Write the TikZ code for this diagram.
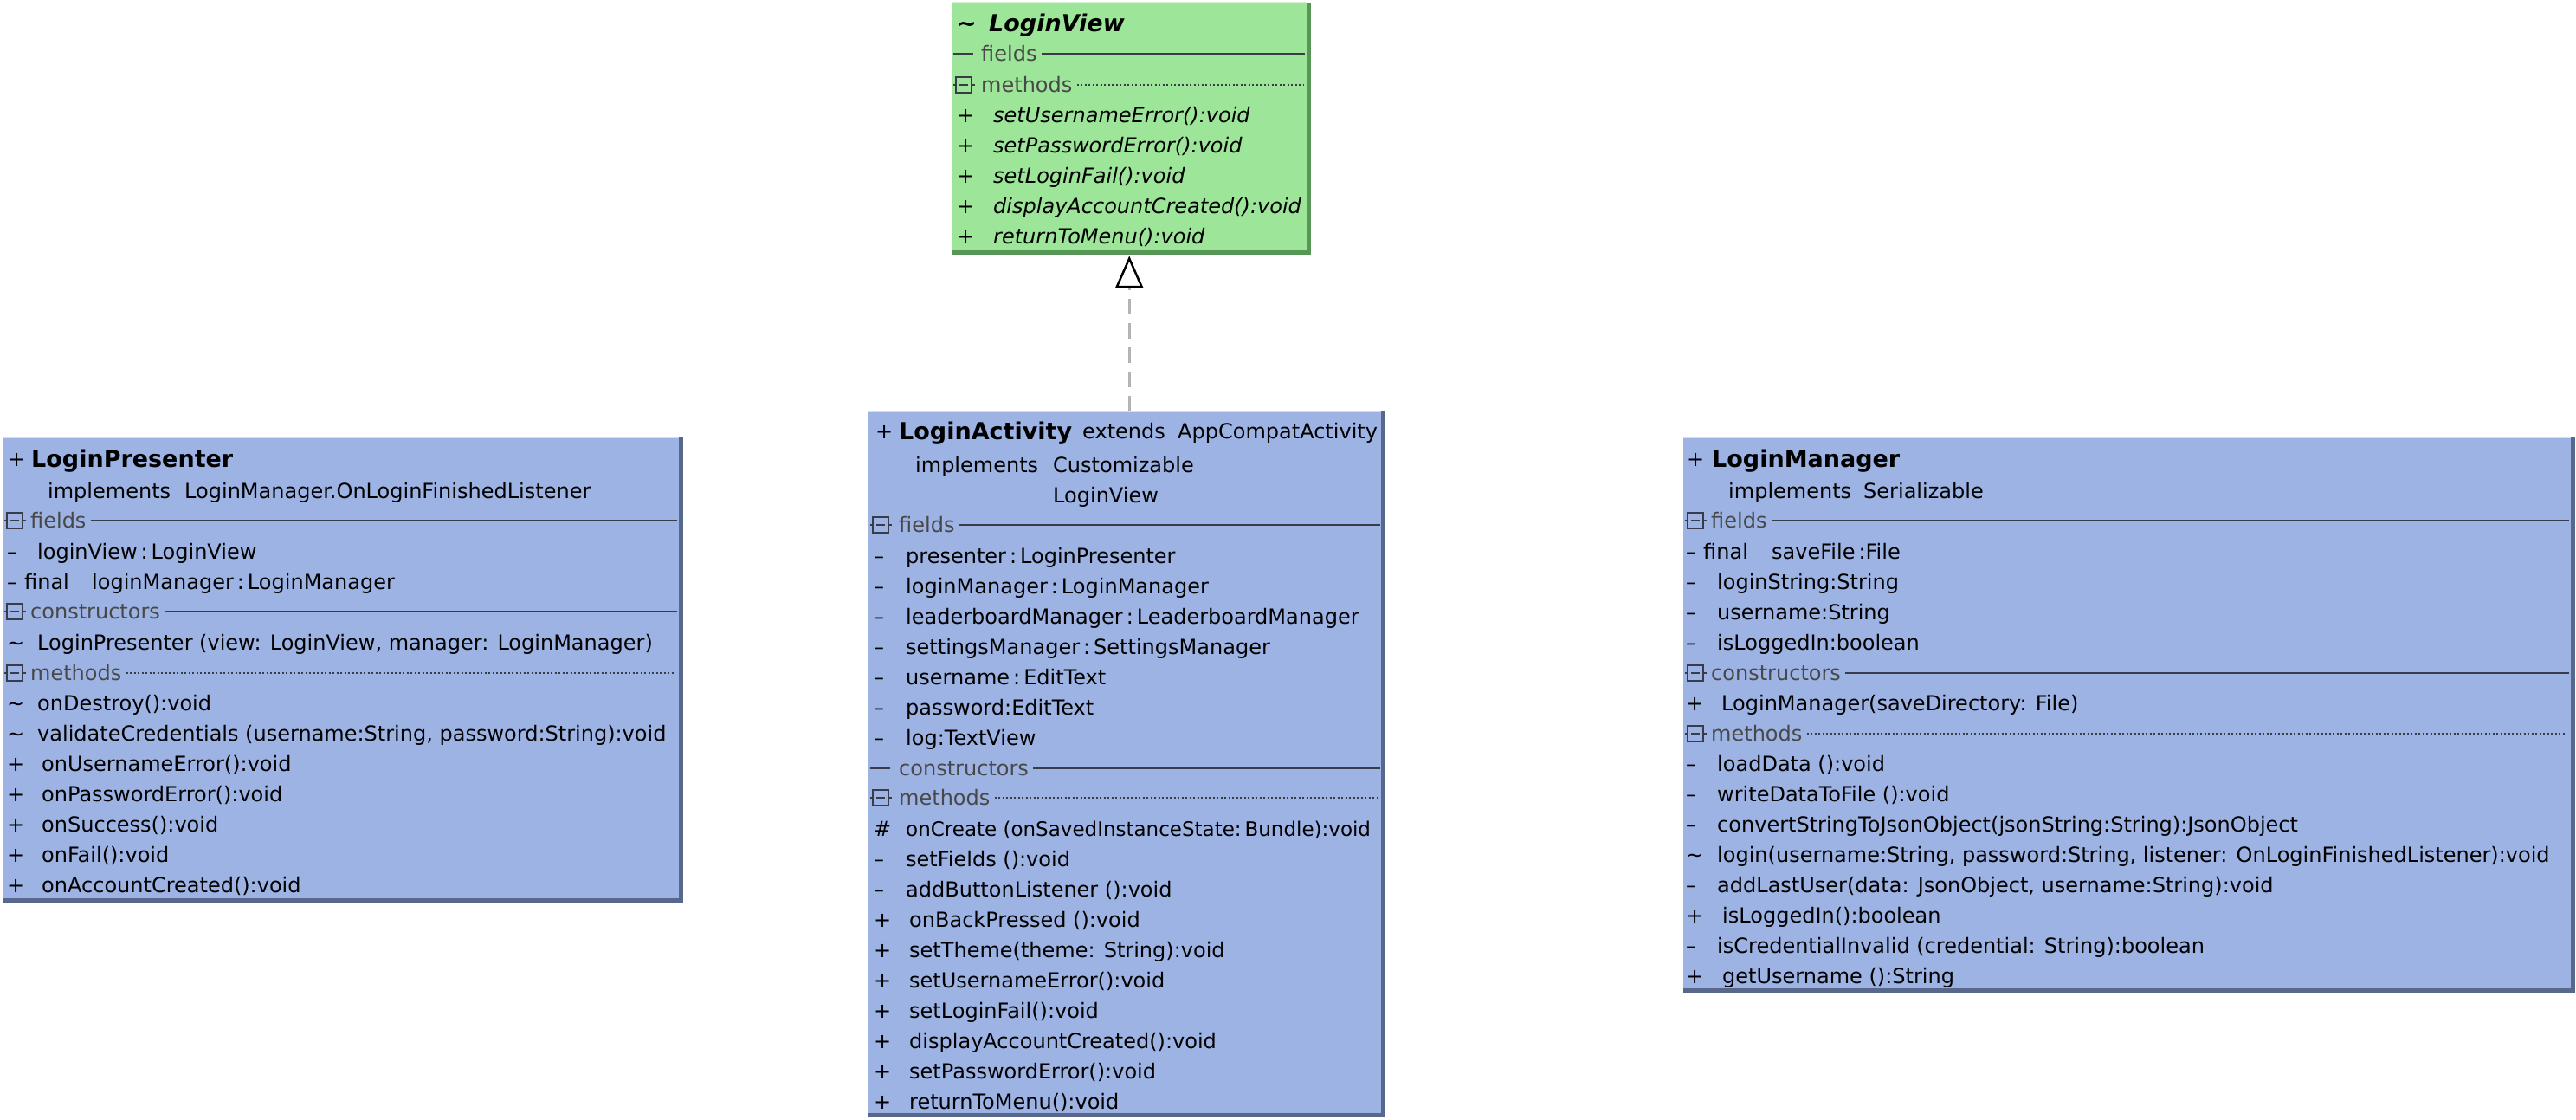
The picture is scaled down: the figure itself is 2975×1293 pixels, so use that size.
\documentclass[tikz,border=0pt]{standalone}
\usepackage{fontspec}
\setmainfont{DejaVu Sans}
\usetikzlibrary{arrows.meta}
\definecolor{umlblue}{RGB}{156,179,228}
\definecolor{umlblueshadow}{RGB}{88,104,140}
\definecolor{umlgreen}{RGB}{157,229,153}
\definecolor{umlgreenshadow}{RGB}{88,150,88}
\definecolor{secline}{RGB}{55,60,72}
\definecolor{sectext}{RGB}{72,72,72}
\definecolor{dashgray}{RGB}{180,180,180}
\tikzset{
  rowtxt/.style={anchor=base west, inner sep=0pt, font=\fontsize{24}{28}\selectfont, text=black},
  rowit/.style={anchor=base west, inner sep=0pt, font=\fontsize{24}{28}\selectfont\itshape, text=black},
  ttl/.style={anchor=base west, inner sep=0pt, font=\fontsize{27}{31}\selectfont\bfseries, text=black},
  seclabel/.style={anchor=west, inner sep=0pt, font=\fontsize{24}{28}\selectfont, text=sectext},
  solidsep/.style={draw=secline, line width=2.5pt},
  dottedsep/.style={draw=secline, line width=2pt, dash pattern=on 2pt off 2.5pt},
  iconsq/.style={draw=secline, line width=2.2pt},
  boxfill/.style={anchor=north west, inner sep=0pt, draw=none},
  realize/.style={draw=dashgray, line width=3pt, dash pattern=on 18pt off 10pt,
    -{Triangle[open, length=37pt, width=32pt, line width=2.5pt, color=black]}},
}
\newcommand\umlbox[7]{% name, x, y, w, h, fill, shadow
  \fill[#7] (#2,#3) rectangle (#2+#4+5,#3+#5+5);
  \node[boxfill, fill=#6, minimum width=#4pt, minimum height=#5pt] (#1) at (#2,#3) {};
  \draw[white!55!#6, line width=2pt] (#1.north west) -- (#1.north east);
}
\newcommand\urow[4]{\node[rowtxt] (#1) at (#2,#3+8) {#4};}
\newcommand\irow[4]{\node[rowit] (#1) at (#2,#3+8) {#4};}
\newcommand\secicon[2]{%
  \draw[iconsq] (#1,#2) -- (#1+3,#2) (#1+21,#2) -- (#1+25,#2);
  \draw[iconsq] (#1+3,#2-9) rectangle (#1+21,#2+9);
  \draw[iconsq] (#1+7,#2) -- (#1+17,#2);}
\newcommand\secdash[2]{\draw[solidsep] (#1,#2) -- (#1+23,#2);}
\newcommand\umlsec[6]{% name, x, y, label, xend, style
  \node[seclabel] (#1) at (#2,#3) {#4};
  \coordinate (#1e) at (#5,#3);
  \draw[#6] ([xshift=5pt]#1.east) -- (#1e);}
\begin{document}
\begin{tikzpicture}[x=1pt, y=-1pt]
\useasboundingbox (0,0) rectangle (2975,1293);

% ---------------- LoginView ----------------
\umlbox{lv}{1099}{3}{410}{286}{umlgreen}{umlgreenshadow}
\node[anchor=base west, inner sep=0pt, font=\fontsize{27}{31}\selectfont\bfseries] (lvvis) at (1105,27+9) {\textasciitilde};
\node[ttl, font=\fontsize{27}{31}\selectfont\bfseries\itshape] (lvname) at (1142,27+9) {LoginView};
\secdash{1101}{62}
\umlsec{lvfields}{1133}{62}{fields}{1507}{solidsep}
\secicon{1101}{98}
\umlsec{lvmeth}{1133}{98}{methods}{1505}{dottedsep}
\irow{lvm1s}{1105}{133}{+} \irow{lvm1}{1147}{133}{setUsernameError():void}
\irow{lvm2s}{1105}{168}{+} \irow{lvm2}{1147}{168}{setPasswordError():void}
\irow{lvm3s}{1105}{203}{+} \irow{lvm3}{1147}{203}{setLoginFail():void}
\irow{lvm4s}{1105}{238}{+} \irow{lvm4}{1147}{238}{displayAccountCreated():void}
\irow{lvm5s}{1105}{273}{+} \irow{lvm5}{1147}{273}{returnToMenu():void}

% ---------------- LoginPresenter ----------------
\umlbox{lp}{3}{505}{781}{532}{umlblue}{umlblueshadow}
\urow{lpvis}{9}{530}{+}
\node[ttl] (lpname) at (36,530+9) {LoginPresenter};
\urow{lpimpl}{55}{567}{implements}
\urow{lpimplt}{213}{567}{LoginManager.OnLoginFinishedListener}
\secicon{5}{601}
\umlsec{lpfields}{35}{601}{fields}{782}{solidsep}
\urow{lpf1s}{8}{637}{–} \urow{lpf1}{43}{637}{loginView\,:\,LoginView}
\urow{lpf2s}{8}{672}{–} \urow{lpf2m}{28}{672}{final} \urow{lpf2}{106}{672}{loginManager\,:\,LoginManager}
\secicon{5}{706}
\umlsec{lpcons}{35}{706}{constructors}{782}{solidsep}
\urow{lpc1s}{8}{742}{\textasciitilde} \urow{lpc1}{43}{742}{LoginPresenter (view: LoginView, manager: LoginManager)}
\secicon{5}{777}
\umlsec{lpmeth}{35}{777}{methods}{778}{dottedsep}
\urow{lpm1s}{8}{812}{\textasciitilde} \urow{lpm1}{43}{812}{onDestroy():void}
\urow{lpm2s}{8}{847}{\textasciitilde} \urow{lpm2}{43}{847}{validateCredentials (username:String, password:String):void}
\urow{lpm3s}{8}{882}{+} \urow{lpm3}{48}{882}{onUsernameError():void}
\urow{lpm4s}{8}{917}{+} \urow{lpm4}{48}{917}{onPasswordError():void}
\urow{lpm5s}{8}{952}{+} \urow{lpm5}{48}{952}{onSuccess():void}
\urow{lpm6s}{8}{987}{+} \urow{lpm6}{48}{987}{onFail():void}
\urow{lpm7s}{8}{1022}{+} \urow{lpm7}{48}{1022}{onAccountCreated():void}

% ---------------- LoginActivity ----------------
\umlbox{la}{1003}{475}{592}{810}{umlblue}{umlblueshadow}
\urow{lavis}{1011}{498}{+}
\node[ttl] (laname) at (1038,498+9) {LoginActivity};
\urow{laext}{1250}{498}{extends}
\urow{laextt}{1360}{498}{AppCompatActivity}
\urow{laimpl}{1057}{537}{implements}
\urow{laimpl1}{1216}{537}{Customizable}
\urow{laimpl2}{1216}{572}{LoginView}
\secicon{1005}{606}
\umlsec{lafields}{1038}{606}{fields}{1594}{solidsep}
\urow{laf1s}{1009}{642}{–} \urow{laf1}{1046}{642}{presenter\,:\,LoginPresenter}
\urow{laf2s}{1009}{677}{–} \urow{laf2}{1046}{677}{loginManager\,:\,LoginManager}
\urow{laf3s}{1009}{712}{–} \urow{laf3}{1046}{712}{leaderboardManager\,:\,LeaderboardManager}
\urow{laf4s}{1009}{747}{–} \urow{laf4}{1046}{747}{settingsManager\,:\,SettingsManager}
\urow{laf5s}{1009}{782}{–} \urow{laf5}{1046}{782}{username\,:\,EditText}
\urow{laf6s}{1009}{817}{–} \urow{laf6}{1046}{817}{password:EditText}
\urow{laf7s}{1009}{852}{–} \urow{laf7}{1046}{852}{log:TextView}
\secdash{1005}{887}
\umlsec{lacons}{1038}{887}{constructors}{1594}{solidsep}
\secicon{1005}{921}
\umlsec{lameth}{1038}{921}{methods}{1592}{dottedsep}
\urow{lam1s}{1009}{957}{\#} \node[rowtxt, font=\fontsize{23}{28}\selectfont] (lam1) at (1046,957+8) {onCreate (onSavedInstanceState:\,Bundle):void};
\urow{lam2s}{1009}{992}{–} \urow{lam2}{1046}{992}{setFields ():void}
\urow{lam3s}{1009}{1027}{–} \urow{lam3}{1046}{1027}{addButtonListener ():void}
\urow{lam4s}{1009}{1062}{+} \urow{lam4}{1050}{1062}{onBackPressed ():void}
\urow{lam5s}{1009}{1097}{+} \urow{lam5}{1050}{1097}{setTheme(theme: String):void}
\urow{lam6s}{1009}{1132}{+} \urow{lam6}{1050}{1132}{setUsernameError():void}
\urow{lam7s}{1009}{1167}{+} \urow{lam7}{1050}{1167}{setLoginFail():void}
\urow{lam8s}{1009}{1202}{+} \urow{lam8}{1050}{1202}{displayAccountCreated():void}
\urow{lam9s}{1009}{1237}{+} \urow{lam9}{1050}{1237}{setPasswordError():void}
\urow{lam10s}{1009}{1272}{+} \urow{lam10}{1050}{1272}{returnToMenu():void}

% ---------------- LoginManager ----------------
\umlbox{lm}{1944}{505}{1025}{636}{umlblue}{umlblueshadow}
\urow{lmvis}{1948}{530}{+}
\node[ttl] (lmname) at (1977,530+9) {LoginManager};
\urow{lmimpl}{1996}{567}{implements}
\urow{lmimplt}{2152}{567}{Serializable}
\secicon{1946}{601}
\umlsec{lmfields}{1976}{601}{fields}{2967}{solidsep}
\urow{lmf1s}{1947}{637}{–} \urow{lmf1m}{1967}{637}{final} \urow{lmf1}{2046}{637}{saveFile\,:File}
\urow{lmf2s}{1947}{672}{–} \urow{lmf2}{1983}{672}{loginString:String}
\urow{lmf3s}{1947}{707}{–} \urow{lmf3}{1983}{707}{username:String}
\urow{lmf4s}{1947}{742}{–} \urow{lmf4}{1983}{742}{isLoggedIn:boolean}
\secicon{1946}{777}
\umlsec{lmcons}{1976}{777}{constructors}{2967}{solidsep}
\urow{lmc1s}{1947}{812}{+} \urow{lmc1}{1988}{812}{LoginManager(saveDirectory: File)}
\secicon{1946}{847}
\umlsec{lmmeth}{1976}{847}{methods}{2963}{dottedsep}
\urow{lmm1s}{1947}{882}{–} \urow{lmm1}{1983}{882}{loadData ():void}
\urow{lmm2s}{1947}{917}{–} \urow{lmm2}{1983}{917}{writeDataToFile ():void}
\urow{lmm3s}{1947}{952}{–} \urow{lmm3}{1983}{952}{convertStringToJsonObject(jsonString:String):JsonObject}
\urow{lmm4s}{1947}{987}{\textasciitilde} \urow{lmm4}{1983}{987}{login(username:String, password:String, listener: OnLoginFinishedListener):void}
\urow{lmm5s}{1947}{1022}{–} \urow{lmm5}{1983}{1022}{addLastUser(data: JsonObject, username:String):void}
\urow{lmm6s}{1947}{1057}{+} \urow{lmm6}{1989}{1057}{isLoggedIn():boolean}
\urow{lmm7s}{1947}{1092}{–} \urow{lmm7}{1983}{1092}{isCredentialInvalid (credential: String):boolean}
\urow{lmm8s}{1947}{1127}{+} \urow{lmm8}{1989}{1127}{getUsername ():String}

% ---------------- realization ----------------
\draw[realize] (la.north -| lv.south) -- ([yshift=-6pt]lv.south);
\end{tikzpicture}
\end{document}
